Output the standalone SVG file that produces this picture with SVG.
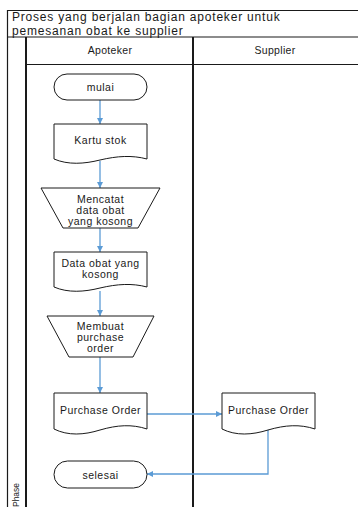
<svg xmlns="http://www.w3.org/2000/svg" width="358" height="507" viewBox="0 0 358 507">
<defs>
<style>
text{font-family:"Liberation Sans",Arial,sans-serif;fill:#1a1a1a}
.t{font-size:12px;letter-spacing:0.8px}
.h{font-size:10.5px;text-anchor:middle;letter-spacing:0.3px}
.n{font-size:10.5px;text-anchor:middle;letter-spacing:0.5px}
.s{fill:#fff;stroke:#1a1a1a;stroke-width:1}
.c{fill:none;stroke:#5B9BD5;stroke-width:1.3}
.b{stroke:#1a1a1a;fill:none}
</style>
<marker id="a" viewBox="0 0 10 10" refX="10" refY="5" markerWidth="6" markerHeight="6" orient="auto" markerUnits="userSpaceOnUse">
<path d="M0,0 L10,5 L0,10 Z" fill="#5B9BD5"/>
</marker>
</defs>
<rect width="358" height="507" fill="#fff"/>
<g id="frame">
<path class="b" d="M7,10.5 H358 M7,37 H358 M26,64.5 H358 M7.5,10 V507" stroke-width="1.2"/>
<path class="b" d="M26,37 V507 M193,37 V507" stroke-width="2"/>
<text class="t" x="12" y="21">Proses yang berjalan bagian apoteker untuk</text>
<text class="t" x="12" y="34.5">pemesanan obat ke supplier</text>
<text class="h" x="110" y="54">Apoteker</text>
<text class="h" x="275" y="54">Supplier</text>
<text x="19" y="483" font-size="8.5" textLength="24" lengthAdjust="spacingAndGlyphs" text-anchor="end" transform="rotate(-90 19 483)">Phase</text>
</g>
<g id="connectors">
<path class="c" d="M100,100 V124" marker-end="url(#a)"/>
<path class="c" d="M100,161 V188" marker-end="url(#a)"/>
<path class="c" d="M100,228 V252" marker-end="url(#a)"/>
<path class="c" d="M100,291 V316" marker-end="url(#a)"/>
<path class="c" d="M100,357 V393" marker-end="url(#a)"/>
<path class="c" d="M147,414 H222" marker-end="url(#a)"/>
<path class="c" d="M268,429 V474 H147" marker-end="url(#a)"/>
</g>
<g id="mulai">
<rect class="s" x="54" y="74" width="93" height="26" rx="13"/>
<text class="n" x="100.5" y="90.5">mulai</text>
</g>
<g id="kartu-stok">
<path class="s" d="M54,124 H147 V159 C132,155 117,156 100,160 C84,164 68,165 54,159 Z"/>
<text class="n" x="100.5" y="143.5">Kartu stok</text>
</g>
<g id="mencatat">
<path class="s" d="M41,188 H160 L138,228 H63 Z"/>
<text class="n" x="100.5" y="202.5">Mencatat</text>
<text class="n" x="100.5" y="213.5">data obat</text>
<text class="n" x="100.5" y="224.5">yang kosong</text>
</g>
<g id="data-obat">
<path class="s" d="M54,252 H147 V287 C132,283 117,284 100,288 C84,292 68,293 54,287 Z"/>
<text class="n" x="100.5" y="266.5">Data obat yang</text>
<text class="n" x="100.5" y="277.5">kosong</text>
</g>
<g id="membuat-po">
<path class="s" d="M47,316 H154 L133,357 H69 Z"/>
<text class="n" x="100.5" y="329.5">Membuat</text>
<text class="n" x="100.5" y="340.5">purchase</text>
<text class="n" x="100.5" y="352">order</text>
</g>
<g id="po-apoteker">
<path class="s" d="M54,393 H147 V429 C132,424 117,425 100,430 C84,435 68,436 54,429 Z"/>
<text class="n" x="100.5" y="413.5">Purchase Order</text>
</g>
<g id="po-supplier">
<path class="s" d="M222,393 H315 V429 C300,424 285,425 268,430 C252,435 236,436 222,429 Z"/>
<text class="n" x="268.5" y="413.5">Purchase Order</text>
</g>
<g id="selesai">
<rect class="s" x="54" y="461" width="93" height="27" rx="13.5"/>
<text class="n" x="100.5" y="478.5">selesai</text>
</g>
</svg>
